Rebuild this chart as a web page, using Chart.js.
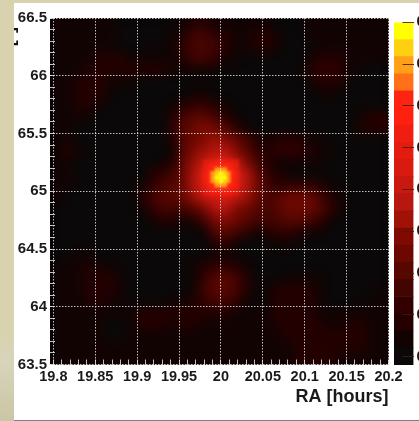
<!DOCTYPE html>
<html>
<head>
<meta charset="utf-8">
<style>
  html, body { margin: 0; padding: 0; width: 419px; height: 421px; overflow: hidden; }
  body { background: linear-gradient(to bottom, #d8d3ae 0, #d8d3ae 78%, #d6d4bb 86%, #cac6a5 100%); position: relative; }
  #panel { position: absolute; left: 14px; top: 3px; width: 405px; height: 417px; background: #fff; border-bottom: 1px solid #808080; }
  #mapChart { position: absolute; left: 14px; top: 0; }
  #barChart { position: absolute; left: 394px; top: 0; }
</style>
</head>
<body>
<div id="panel"></div>
<canvas id="mapChart" width="405" height="421"></canvas>
<canvas id="barChart" width="25" height="421"></canvas>
<script src="https://cdn.jsdelivr.net/npm/chart.js@4/dist/chart.umd.min.js"></script>
<script>
const raLabels = ['19.8', '19.85', '19.9', '19.95', '20', '20.05', '20.1', '20.15', '20.2'];
const decLabels = ['63.5', '64', '64.5', '65', '65.5', '66', '66.5'];
const barTicks = [0.1, 0.2, 0.3, 0.4, 0.5, 0.6, 0.7, 0.8, 0.9];

// colour bar: contour levels and the colour of each band
const levels = [0.08, 0.121, 0.162, 0.203, 0.244, 0.285, 0.326, 0.367, 0.408, 0.449, 0.49, 0.531, 0.572, 0.613, 0.654, 0.695, 0.736, 0.777, 0.818, 0.859, 0.9];
const bandColors = ['#0a0808', '#120303', '#240000', '#320000', '#440402', '#580600', '#6c0800', '#800a02', '#a01206', '#b81610', '#c81810', '#d81a10', '#e41c10', '#f01e10', '#ff2010', '#ff2412', '#ff7018', '#ffa018', '#ffd010', '#ffff00'];

// map cells, significance x 100
const cellRa = [19.806, 19.819, 19.831, 19.844, 19.856, 19.869, 19.881, 19.894, 19.906, 19.919, 19.931, 19.944, 19.956, 19.969, 19.981, 19.994, 20.006, 20.019, 20.031, 20.044, 20.056, 20.069, 20.081, 20.094, 20.106, 20.119, 20.131, 20.144, 20.156, 20.169, 20.181, 20.194];
const cellDec = [66.45, 66.35, 66.25, 66.15, 66.05, 65.95, 65.85, 65.75, 65.65, 65.55, 65.45, 65.35, 65.25, 65.15, 65.05, 64.95, 64.85, 64.75, 64.65, 64.55, 64.45, 64.35, 64.25, 64.15, 64.05, 63.95, 63.85, 63.75, 63.65, 63.55];
const cellValues = [
  [14,14,14,14,14,14,10,10,10,10,10,12,16,19,19,16,14,14,14,14,14,12,10,10,14,14,14,14,14,14,14,14],
  [14,14,14,14,14,13,10,10,10,10,10,13,20,25,26,22,17,14,14,17,18,15,11,10,13,14,14,14,14,14,14,14],
  [14,14,14,14,14,14,12,11,11,11,13,15,21,27,28,25,19,15,15,18,19,15,11,10,12,13,14,14,14,14,14,14],
  [14,14,14,16,17,17,17,16,15,15,15,15,19,25,26,21,15,13,12,12,12,11,10,10,14,18,19,17,14,13,13,13],
  [14,14,14,18,19,19,19,18,18,18,17,15,14,16,16,13,11,10,10,10,10,10,10,10,17,21,22,19,14,11,11,11],
  [14,14,17,18,17,15,14,13,12,12,11,11,11,11,10,10,10,10,10,10,10,10,10,10,15,19,20,18,12,10,10,10],
  [14,15,19,20,18,13,11,10,10,10,10,10,11,13,13,12,10,10,10,10,10,10,10,10,11,13,13,12,10,10,10,10],
  [14,14,18,19,16,11,10,10,10,10,10,13,20,24,24,20,14,11,10,10,10,10,10,10,10,10,10,10,10,11,11,11],
  [14,13,14,14,12,10,10,10,10,10,10,18,28,32,31,27,20,14,11,10,10,10,10,10,10,10,10,10,10,16,18,17],
  [13,13,12,11,10,10,10,10,10,10,12,21,30,36,37,35,29,20,13,11,10,10,10,10,10,10,10,10,10,17,19,18],
  [14,16,12,10,10,10,10,10,10,10,11,19,29,36,40,41,39,34,27,17,15,19,20,18,15,13,11,10,10,11,12,12],
  [15,18,13,10,10,10,10,10,10,10,10,15,29,37,42,46,45,39,32,22,19,21,22,21,19,16,13,11,10,10,10,10],
  [14,15,12,10,10,10,10,10,11,11,13,20,33,42,52,60,60,50,39,28,20,15,15,15,15,13,11,10,10,10,10,10],
  [13,13,11,10,10,10,10,10,12,19,24,27,36,47,60,82,82,60,46,33,24,18,13,12,12,11,10,10,10,10,10,10],
  [13,13,11,10,10,10,10,10,15,24,27,29,35,46,58,70,70,58,46,33,25,20,21,22,21,17,13,10,10,10,10,10],
  [13,12,10,10,10,10,10,10,17,26,29,30,33,41,50,57,56,49,41,33,28,30,33,35,33,28,20,15,11,10,10,10],
  [12,11,10,10,10,10,10,10,13,22,26,26,26,31,40,45,45,40,36,31,28,30,34,36,34,29,21,14,10,10,10,10],
  [11,10,10,10,10,10,10,10,10,14,18,17,15,18,28,39,39,36,32,28,26,27,29,29,27,22,15,11,10,10,10,10],
  [10,10,10,10,10,10,10,10,10,11,12,11,10,10,15,30,32,28,21,16,19,23,23,20,16,13,10,10,10,10,10,10],
  [10,10,10,10,10,10,10,10,10,10,10,10,10,10,11,19,21,15,11,10,12,15,14,12,10,10,10,10,10,10,10,10],
  [11,11,14,16,12,11,11,10,10,10,10,10,10,10,11,14,14,12,10,10,10,10,10,10,10,10,10,10,10,10,10,10],
  [13,14,16,18,15,13,11,10,10,10,10,10,10,13,19,23,24,20,14,10,10,10,10,10,11,11,11,11,10,10,10,11],
  [14,14,15,18,19,19,15,11,10,10,10,10,11,15,24,29,30,26,18,11,10,12,14,15,15,13,11,10,10,10,10,12],
  [14,14,16,19,20,19,14,11,10,10,10,10,11,15,25,30,31,28,20,12,13,17,19,20,19,15,12,10,10,11,12,13],
  [14,14,15,18,17,14,13,12,11,11,12,15,15,18,24,28,28,24,16,12,16,19,20,20,19,15,12,12,12,12,13,13],
  [14,14,14,14,14,13,13,15,19,19,18,18,19,19,19,20,19,16,13,13,16,19,19,19,19,16,13,13,13,13,13,14],
  [14,14,14,14,13,11,11,14,19,19,17,15,17,18,15,14,14,13,13,13,14,18,19,19,19,18,16,16,18,18,14,14],
  [14,14,14,14,14,12,12,13,14,14,14,14,14,14,14,14,14,14,14,14,14,15,18,19,19,19,19,19,20,20,15,14],
  [14,14,14,14,14,14,14,14,14,14,14,14,14,14,14,14,14,14,14,14,14,14,16,19,19,19,19,19,19,18,14,14],
  [14,14,14,14,14,14,14,14,14,14,14,14,14,14,14,14,14,14,14,14,14,14,15,18,19,18,17,15,14,14,14,14]
];

// finer cells round the peak
const peakRa = [19.981, 19.986, 19.99, 19.995, 20, 20.005, 20.01, 20.014, 20.019];
const peakDec = [65.258, 65.223, 65.188, 65.154, 65.119, 65.084, 65.05, 65.015, 64.98];
const peakValues = [
  [54, 58, 61, 63, 64, 63, 61, 58, 54],
  [58, 63, 67, 70, 71, 70, 67, 63, 58],
  [61, 67, 73, 78, 80, 78, 73, 67, 61],
  [63, 70, 78, 84, 86, 84, 78, 70, 63],
  [64, 71, 80, 86, 90, 86, 80, 71, 64],
  [63, 70, 78, 84, 87, 84, 78, 70, 63],
  [61, 67, 73, 78, 81, 78, 73, 67, 62],
  [58, 63, 67, 70, 72, 70, 67, 64, 59],
  [55, 59, 62, 64, 65, 64, 62, 60, 55]
];

const fontFamily = '"Liberation Sans", Arial, sans-serif';
const gridColor = 'rgba(225,225,225,0.85)';

function colorOf(v) {
  const z = v / 100;
  for (let b = 0; b < bandColors.length; b++) {
    if (z < levels[b + 1]) return bandColors[b];
  }
  return bandColors[bandColors.length - 1];
}

function cellPoints(ras, decs, values) {
  const pts = [];
  decs.forEach((dec, r) => ras.forEach((ra, c) => pts.push({ x: ra, y: dec, v: values[r][c] })));
  return pts;
}

// smooths the blocky cells the way the contour plot looks
const smoothPlugin = {
  id: 'smooth',
  beforeDatasetsDraw(chart) {
    const a = chart.chartArea;
    chart.ctx.fillStyle = '#050202';
    chart.ctx.fillRect(a.left, a.top, a.width, a.height);
  },
  afterDatasetDraw(chart, args) {
    const a = chart.chartArea;
    const ctx = chart.ctx;
    ctx.save();
    ctx.beginPath();
    ctx.rect(a.left, a.top, a.width, a.height);
    ctx.clip();
    ctx.filter = args.index === 0 ? 'blur(5.5px)' : 'blur(1.2px)';
    ctx.drawImage(chart.canvas, a.left, a.top, a.width, a.height, a.left, a.top, a.width, a.height);
    ctx.restore();
  },
  afterDraw(chart) {
    // y title, only its last glyphs show past the panel edge
    const ctx = chart.ctx;
    ctx.save();
    ctx.translate(-0.5, 27);
    ctx.rotate(-Math.PI / 2);
    ctx.font = 'bold 18px ' + fontFamily;
    ctx.fillStyle = '#111';
    ctx.textAlign = 'right';
    ctx.fillText('Dec [°]', 0, 0);
    ctx.restore();
  }
};

new Chart(document.getElementById('mapChart'), {
  type: 'scatter',
  data: {
    datasets: [
      {
        data: cellPoints(cellRa, cellDec, cellValues),
        pointStyle: 'rect',
        pointRadius: 8.2,
        pointBorderWidth: 0,
        pointBackgroundColor: c => colorOf(c.raw.v),
        order: 2
      },
      {
        data: cellPoints(peakRa, peakDec, peakValues),
        pointStyle: 'rect',
        pointRadius: 3,
        pointBorderWidth: 0,
        pointBackgroundColor: c => colorOf(c.raw.v),
        order: 1
      }
    ]
  },
  plugins: [smoothPlugin],
  options: {
    responsive: false,
    animation: false,
    events: [],
    layout: { padding: { top: 18, right: 30.5, left: 0, bottom: 0 } },
    plugins: { legend: { display: false }, tooltip: { enabled: false } },
    scales: {
      x: {
        type: 'linear',
        min: 19.796,
        max: 20.2,
        afterFit(scale) { scale.height = 56.5; },
        afterBuildTicks(scale) {
          const t = [];
          for (let i = 0; i <= 40; i++) t.push({ value: 19.8 + i * 0.01 });
          scale.ticks = t;
        },
        border: { display: false, dash: [1.5, 1.5] },
        grid: {
          z: 1,
          tickLength: -5,
          color: c => (c.index % 5 === 0 ? gridColor : 'rgba(0,0,0,0)'),
          tickColor: gridColor
        },
        ticks: {
          autoSkip: false,
          maxRotation: 0,
          minRotation: 0,
          padding: 9,
          color: '#1a1a1a',
          font: { family: fontFamily, size: 14.5, weight: 'bold' },
          callback: (v, i) => (i % 5 === 0 ? raLabels[i / 5] : '')
        },
        title: {
          display: true,
          text: 'RA [hours]',
          align: 'end',
          color: '#1a1a1a',
          font: { family: fontFamily, size: 18, weight: 'bold' },
          padding: { top: 0, bottom: 13 }
        }
      },
      y: {
        type: 'linear',
        min: 63.5,
        max: 66.5,
        afterFit(scale) { scale.width = 36; },
        afterBuildTicks(scale) {
          const t = [];
          for (let i = 0; i <= 30; i++) t.push({ value: 63.5 + i * 0.1 });
          scale.ticks = t;
        },
        border: { display: false, dash: [1.5, 1.5] },
        grid: {
          z: 1,
          tickLength: -5,
          color: c => (c.index % 5 === 0 ? gridColor : 'rgba(0,0,0,0)'),
          tickColor: gridColor
        },
        ticks: {
          autoSkip: false,
          padding: 8,
          color: '#1a1a1a',
          font: { family: fontFamily, size: 15, weight: 'bold' },
          callback: (v, i) => (i % 5 === 0 ? decLabels[i / 5] : '')
        }
      }
    }
  }
});

// colour bar, one floating bar per band
new Chart(document.getElementById('barChart'), {
  type: 'bar',
  data: {
    labels: ['z'],
    datasets: bandColors.map((col, b) => ({
      data: [[levels[b], levels[b + 1]]],
      backgroundColor: col,
      borderWidth: 0,
      barPercentage: 1,
      categoryPercentage: 1,
      grouped: false
    }))
  },
  options: {
    responsive: false,
    animation: false,
    events: [],
    layout: { padding: { top: 18, bottom: 56, left: 0, right: 0 } },
    plugins: { legend: { display: false }, tooltip: { enabled: false } },
    scales: {
      x: { display: false },
      y: {
        position: 'right',
        min: levels[0],
        max: levels[levels.length - 1],
        afterFit(scale) { scale.width = 5.5; },
        afterBuildTicks(scale) { scale.ticks = barTicks.map(v => ({ value: v })); },
        border: { display: false },
        grid: { z: 1, drawOnChartArea: false, tickLength: -11, tickColor: 'rgba(70,25,10,0.85)' },
        ticks: {
          autoSkip: false,
          padding: 14,
          color: '#1a1a1a',
          font: { family: fontFamily, size: 14, weight: 'bold' },
          callback: v => v.toFixed(1)
        }
      }
    }
  }
});
</script>
</body>
</html>
